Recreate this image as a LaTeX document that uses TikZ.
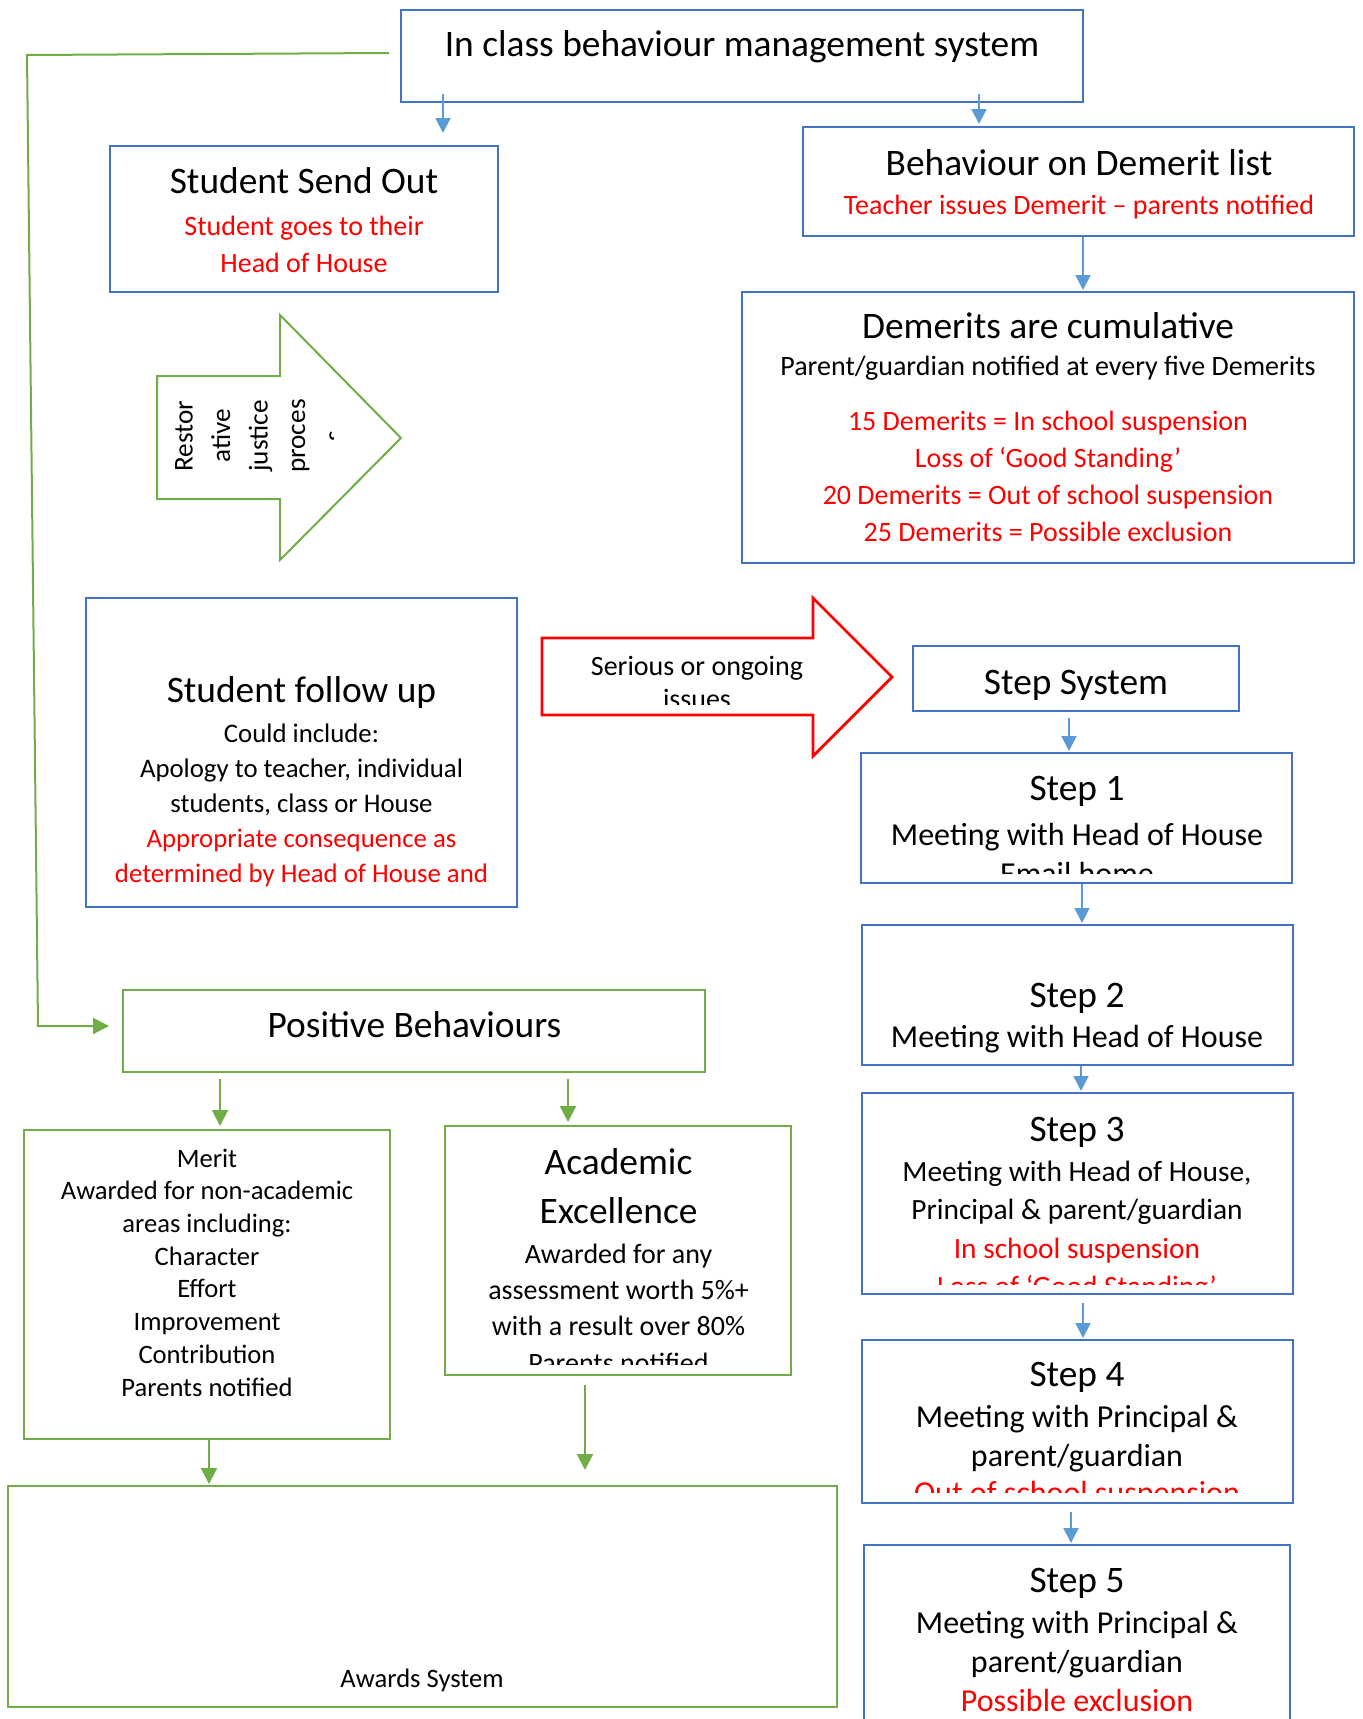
\documentclass[tikz,border=0pt]{standalone}
\usepackage{fontspec}
\setmainfont{Carlito}
\usetikzlibrary{arrows.meta,fit}
\definecolor{boxblue}{HTML}{4472C4}
\definecolor{lineblue}{HTML}{5B9BD5}
\definecolor{boxgreen}{HTML}{70AD47}
\definecolor{alertred}{HTML}{FF0000}
\tikzset{
  bluebox/.style={draw=boxblue, line width=1pt, inner sep=0pt},
  greenbox/.style={draw=boxgreen, line width=1pt, inner sep=0pt},
  bluearrow/.style={draw=lineblue, line width=1pt, -{Triangle[width=7.5pt,length=7.5pt]}},
  greenarrow/.style={draw=boxgreen, line width=1pt, -{Triangle[width=8pt,length=8pt]}},
  headtxt/.style={inner sep=0pt, anchor=base, font=\fontsize{18.7}{22}\selectfont},
  steptxt/.style={inner sep=0pt, align=center, font=\fontsize{16}{19.25}\selectfont},
  smalltxt/.style={inner sep=0pt, align=center, font=\fontsize{14}{18.5}\selectfont},
  merittxt/.style={inner sep=0pt, align=center, font=\fontsize{13.3}{16.35}\selectfont},
}
\begin{document}
\begin{tikzpicture}[x=0.5pt, y=-0.5pt]
\useasboundingbox (0,0) rectangle (1362,1719);

% top of the chart
\node[bluebox, fit={(401,10) (1083,102)}] (top) {};
\node[headtxt] (topTxt) at (742,56) {In class behaviour management system};

% left column: send out
\node[bluebox, fit={(110,146) (498,292)}] (sendout) {};
\node[headtxt] (sendoutHead) at (304,193) {Student Send Out};
\node[smalltxt, text=alertred] (sendoutBody) at (304,244) {Student goes to their\\Head of House};

\draw[draw=boxgreen, line width=1pt]
  (157,376) -- (280,376) -- (280,315) -- (401,438) -- (280,560) -- (280,499) -- (157,499) -- cycle;
\begin{scope}
  \clip (157,376) rectangle (333,499);
  \node[smalltxt, font=\fontsize{13.6}{18.75}\selectfont, rotate=90] (restTxt) at (259,436)
    {Restor\\ative\\justice\\proces\\s};
\end{scope}

\node[bluebox, fit={(86,598) (517,907)}] (followup) {};
\node[headtxt] (followupHead) at (301.5,702) {Student follow up};
\node[smalltxt, font=\fontsize{13.4}{17.5}\selectfont] (followupBody) at (301.5,770)
  {Could include:\\Apology to teacher, individual\\students, class or House};
\node[smalltxt, font=\fontsize{13.4}{17.5}\selectfont, text=alertred] (followupRed) at (301.5,857.5)
  {Appropriate consequence as\\determined by Head of House and};

% right column: demerits
\node[bluebox, fit={(803,127) (1354,236)}] (demerit) {};
\node[headtxt] (demeritHead) at (1079,175) {Behaviour on Demerit list};
\node[smalltxt, text=alertred] (demeritBody) at (1079,207) {Teacher issues Demerit \textendash{} parents notified};

\node[bluebox, fit={(742,292) (1354,563)}] (cumul) {};
\node[headtxt] (cumulHead) at (1048,338) {Demerits are cumulative};
\node[smalltxt] (cumulBody) at (1048,368) {Parent/guardian notified at every five Demerits};
\node[smalltxt, text=alertred] (cumulRed) at (1048,476.5)
  {15 Demerits = In school suspension\\Loss of ‘Good Standing’\\20 Demerits = Out of school suspension\\25 Demerits = Possible exclusion};

% serious issues arrow
\draw[draw=alertred, line width=1.4pt]
  (542,638) -- (813,638) -- (813,598) -- (892,677) -- (813,756) -- (813,715) -- (542,715) -- cycle;
\begin{scope}
  \clip (542,638) rectangle (813,704);
  \node[smalltxt, font=\fontsize{14}{16.5}\selectfont] (seriousTxt) at (697,682.5) {Serious or ongoing\\issues};
\end{scope}

% step system
\node[bluebox, fit={(913,646) (1239,711)}] (stepsys) {};
\node[headtxt] (stepsysTxt) at (1076,694) {Step System};

\node[bluebox, fit={(861,753) (1292,883)}] (step1) {};
\node[headtxt] (step1Head) at (1077,800) {Step 1};
\begin{scope}
  \clip (step1.north west) rectangle ([yshift=5.5pt]step1.south east);
  \node[steptxt] (step1Body) at (1077,854) {Meeting with Head of House\\Email home};
\end{scope}

\node[bluebox, fit={(862,925) (1293,1065)}] (step2) {};
\node[headtxt] (step2Head) at (1077,1007) {Step 2};
\node[steptxt] (step2Body) at (1077,1039) {Meeting with Head of House};

\node[bluebox, fit={(862,1093) (1293,1294)}] (step3) {};
\node[headtxt] (step3Head) at (1077,1141) {Step 3};
\node[steptxt, font=\fontsize{14.7}{19.25}\selectfont] (step3Body) at (1077,1193) {Meeting with Head of House,\\Principal \& parent/guardian};
\begin{scope}
  \clip (step3.north west) rectangle ([yshift=5.5pt]step3.south east);
  \node[steptxt, font=\fontsize{14.7}{19.25}\selectfont, text=alertred] (step3Red) at (1077,1270) {In school suspension\\Loss of ‘Good Standing’};
\end{scope}

\node[bluebox, fit={(862,1340) (1293,1503)}] (step4) {};
\node[headtxt] (step4Head) at (1077,1386) {Step 4};
\node[steptxt] (step4Body) at (1077,1438.5) {Meeting with Principal \&\\parent/guardian};
\begin{scope}
  \clip (step4.north west) rectangle ([yshift=6pt]step4.south east);
  \node[steptxt, text=alertred] (step4Red) at (1077,1495) {Out of school suspension};
\end{scope}

\node[bluebox, fit={(864,1545) (1290,1745)}] (step5) {};
\node[headtxt] (step5Head) at (1077,1592) {Step 5};
\node[steptxt] (step5Body) at (1077,1644.5) {Meeting with Principal \&\\parent/guardian};
\node[steptxt, text=alertred] (step5Red) at (1077,1700) {Possible exclusion};

% positive side
\node[greenbox, fit={(123,990) (705,1072)}] (positive) {};
\node[headtxt] (positiveTxt) at (414.5,1037) {Positive Behaviours};

\node[greenbox, fit={(24,1130) (390,1439)}] (merit) {};
\node[merittxt] (meritTxt) at (207,1272.5)
  {Merit\\Awarded for non-academic\\areas including:\\Character\\Effort\\Improvement\\Contribution\\Parents notified};

\node[greenbox, fit={(445,1126) (791,1375)}] (academic) {};
\node[inner sep=0pt, align=center, font=\fontsize{18.7}{24.5}\selectfont] (academicHead) at (618.5,1186.5) {Academic\\Excellence};
\begin{scope}
  \clip (academic.north west) rectangle ([yshift=6pt]academic.south east);
  \node[smalltxt, font=\fontsize{14}{18.15}\selectfont] (academicBody) at (618.5,1308)
    {Awarded for any\\assessment worth 5\%+\\with a result over 80\%\\Parents notified};
\end{scope}

\node[greenbox, fit={(8,1486) (837,1707)}] (awards) {};
\node[merittxt] (awardsTxt) at (422,1680) {Awards System};

% connectors
\draw[bluearrow, shorten <=-4.5pt, shorten >=6pt] (top.south -| 443,0) -- (sendout.north -| 443,0);
\draw[bluearrow, shorten <=-4.5pt, shorten >=1pt] (top.south -| 979,0) -- (demerit.north -| 979,0);
\draw[bluearrow, shorten >=0.5pt] (demerit.south -| 1083,0) -- (cumul.north -| 1083,0);
\draw[bluearrow, shorten <=3pt, shorten >=0.5pt] (stepsys.south -| 1069,0) -- (step1.north -| 1069,0);
\draw[bluearrow, shorten >=0.5pt] (step1.south -| 1082,0) -- (step2.north -| 1082,0);
\draw[bluearrow, shorten >=0.5pt] (step2.south -| 1081,0) -- (step3.north -| 1081,0);
\draw[bluearrow, shorten <=4pt, shorten >=0.5pt] (step3.south -| 1083,0) -- (step4.north -| 1083,0);
\draw[bluearrow, shorten <=4pt, shorten >=0.5pt] (step4.south -| 1071,0) -- (step5.north -| 1071,0);

\draw[greenarrow, shorten >=6.5pt] ([xshift=-5.5pt,yshift=1.5pt]top.west) -- (27,55) -- (38,1026) -- (positive.west |- 38,1026);
\draw[greenarrow, shorten <=3pt, shorten >=1.5pt] (positive.south -| 220,0) -- (merit.north -| 220,0);
\draw[greenarrow, shorten <=3pt, shorten >=1.5pt] (positive.south -| 568,0) -- (academic.north -| 568,0);
\draw[greenarrow, shorten >=0.5pt] (merit.south -| 209,0) -- (awards.north -| 209,0);
\draw[greenarrow, shorten <=4.5pt, shorten >=7.5pt] (academic.south -| 585,0) -- (awards.north -| 585,0);
\end{tikzpicture}
\end{document}
